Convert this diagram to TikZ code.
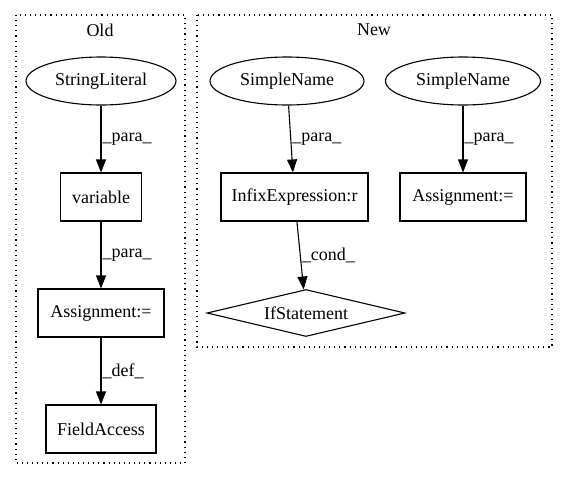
\documentclass[tikz,border=0pt]{standalone}
\usepackage{fontspec}
\setmainfont{Liberation Serif}
\usetikzlibrary{shapes, shapes.geometric}
\usetikzlibrary{arrows.meta}

\begin{document}
\begin{tikzpicture}[x=1pt, y=-1pt, font=\fontsize{18}{20}\selectfont,
        >={Triangle[length=13pt,width=10pt]}, line width=1.1pt,
        box/.style={draw, rectangle, inner sep=0pt, minimum height=48pt},
        oval/.style={draw, ellipse, inner sep=0pt, minimum height=48pt},
        ifbox/.style={draw, diamond, aspect=4.2, inner sep=0pt,
            minimum width=198pt, minimum height=47pt},
        cluster/.style={dash pattern=on 1.1pt off 4pt},
        elabel/.style={anchor=west, inner sep=0pt, xshift=1pt}]
        \useasboundingbox (0,0) rectangle (568,480);
        % clusters
        \draw[cluster] (16,15) rectangle (185,463);
        \draw[cluster] (197,15) rectangle (552,347);
        \node (oldlbl) at (100,30) {Old};
        \node (newlbl) at (374,30) {New};
        % old
        \node[oval, minimum width=150pt] (sl) at (101,81) {StringLiteral};
        \node[box, minimum width=81pt, below of=sl, node distance=116pt]
            (var) {variable};
        \node[box, minimum width=126pt, below of=var, node distance=116pt]
            (oasg) {Assignment:=};
        \node[box, minimum width=110pt, below of=oasg, node distance=116pt]
            (fa) {FieldAccess};
        % new
        \node[oval, minimum width=154pt] (sn1) at (287,81) {SimpleName};
        \node[oval, minimum width=155pt] (sn2) at (463,81) {SimpleName};
        \node[box, minimum width=147pt, below of=sn1, node distance=116pt,
            xshift=7.5pt] (infix) {InfixExpression:r};
        \node[box, minimum width=126pt, below of=sn2, node distance=116pt]
            (nasg) {Assignment:=};
        \node[ifbox, below of=infix, node distance=116pt, xshift=11.5pt]
            (ifst) {IfStatement};
        \draw[->] (sl) -- (var) node[elabel, midway] {\_para\_};
        \draw[->] (var) -- (oasg) node[elabel, midway] {\_para\_};
        \draw[->] (oasg) -- (fa) node[elabel, midway] {\_def\_};
        \draw[->] (sn1) -- (infix) node[elabel, midway] {\_para\_};
        \draw[->] (sn2) -- (nasg) node[elabel, midway] {\_para\_};
        \draw[->] (infix) -- (ifst) node[elabel, midway] {\_cond\_};
    \end{tikzpicture}
\end{document}
